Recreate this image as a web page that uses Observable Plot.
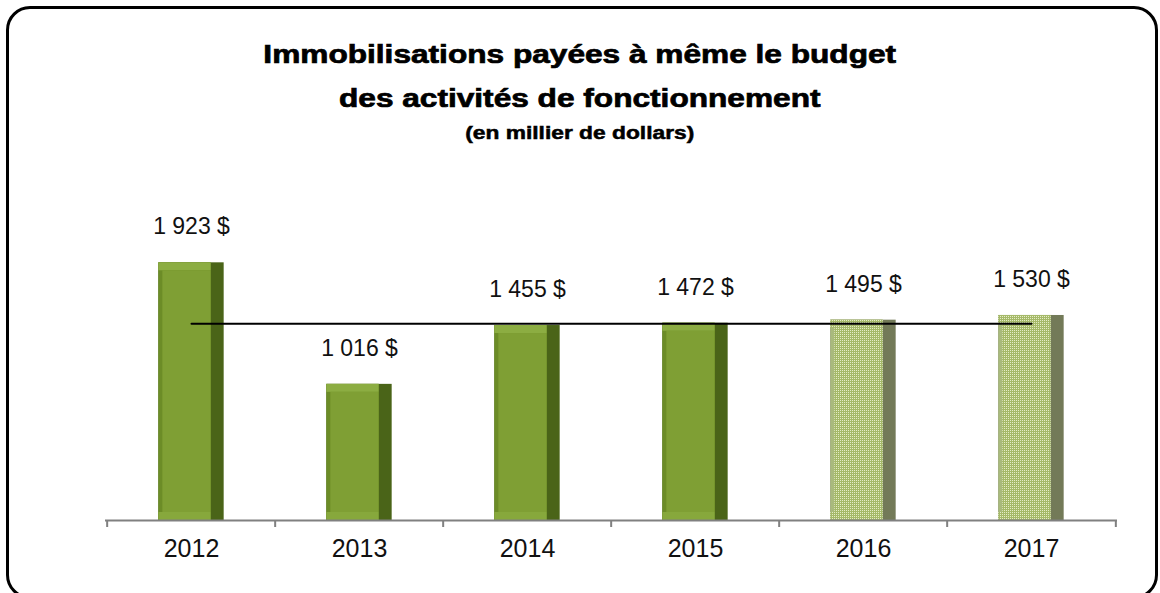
<!DOCTYPE html>
<html>
<head>
<meta charset="utf-8">
<script src="https://cdn.jsdelivr.net/npm/d3@7"></script>
<script src="https://cdn.jsdelivr.net/npm/@observablehq/plot@0.6"></script>
<style>
  html, body { margin: 0; padding: 0; background: #fff; }
  #wrap { position: relative; width: 1160px; height: 593px; overflow: hidden; background: #fff; font-family: "Liberation Sans", Arial, sans-serif; }
  #frame { position: absolute; left: 6px; top: 6px; width: 1152px; height: 593px; border: 3px solid #000; border-radius: 24px; box-sizing: border-box; }
  #titles { position: absolute; left: 0; top: 0; width: 1160px; height: 150px; text-align: center; color: #000; }
  .tl { position: absolute; left: 0; width: 100%; font-weight: bold; white-space: nowrap; transform: scaleX(1.265); transform-origin: 581px 0; -webkit-text-stroke: 0.7px #000; }
  #t1 { top: 40px; font-size: 25px; }
  #t2 { top: 84px; font-size: 25px; }
  #t3 { top: 123px; font-size: 18px; -webkit-text-stroke: 0.5px #000; }
  #chart { position: absolute; left: 0; top: 150px; }
</style>
</head>
<body>
<div id="wrap">
  <div id="frame"></div>
  <div id="titles">
    <div id="t1" class="tl">Immobilisations payées à même le budget</div>
    <div id="t2" class="tl">des activités de fonctionnement</div>
    <div id="t3" class="tl">(en millier de dollars)</div>
  </div>
  <div id="chart"></div>
</div>
<script>
const years = ["2012", "2013", "2014", "2015", "2016", "2017"];
const values = [1923, 1016, 1455, 1472, 1495, 1530];
const projected = [false, false, false, false, true, true];
const valueLabels = ["1 923 $", "1 016 $", "1 455 $", "1 472 $", "1 495 $", "1 530 $"];
const referenceLevel = 1468;

const data = years.map((y, i) => ({year: y, value: values[i], label: valueLabels[i], proj: projected[i]}));
const actual = data.filter(d => !d.proj);
const proj = data.filter(d => d.proj);
const refData = years.map(y => ({year: y, value: referenceLevel}));

const W = 1160, H = 443, ML = 105, MR = 43;
const step = (W - ML - MR) / years.length;
const side = (step - 66) / 2;
const lastYear = [years[years.length - 1]];

const bevel = (rows, c) => [
  Plot.barY(rows, {x: "year", y: "value", fill: c.right, insetLeft: side, insetRight: side}),
  Plot.barY(rows, {x: "year", y: "value", fill: c.left, insetLeft: side, insetRight: side + 13}),
  Plot.barY(rows, {x: "year", y1: "value", y2: "value", fill: c.top, insetLeft: side, insetRight: side + 13, insetBottom: -8}),
  Plot.barY(rows, {x: "year", y1: 0, y2: 0, fill: c.bottom, insetLeft: side, insetRight: side + 13, insetTop: -8}),
  Plot.barY(rows, {x: "year", y: "value", fill: c.face, insetLeft: side + 4, insetRight: side + 13, insetTop: 8, insetBottom: 8})
];

const chart = Plot.plot({
  width: W,
  height: H,
  marginLeft: ML,
  marginRight: MR,
  marginTop: 35,
  marginBottom: 73,
  style: {fontFamily: "Liberation Sans, Arial, sans-serif", background: "transparent", overflow: "visible"},
  x: {domain: years, padding: 0, label: null},
  y: {domain: [0, 2500], axis: null},
  marks: [
    ...bevel(actual, {right: "#4a6418", left: "#6c8c27", top: "#8cad42", bottom: "#87a83c", face: "#7f9f34"}),
    ...bevel(proj, {right: "#737a58", left: "#a9ba7c", top: "#c9d6a3", bottom: "#c4d29b", face: "#c3d29a"}),
    Plot.lineY(refData, {x: "year", y: "value", stroke: "#000", strokeWidth: 2}),
    Plot.ruleY([0], {stroke: "#808080", strokeWidth: 2}),
    Plot.ruleX(years, {x: d => d, y1: 0, y2: 0, insetBottom: -7, dx: -step / 2, stroke: "#808080", strokeWidth: 2}),
    Plot.ruleX(lastYear, {x: d => d, y1: 0, y2: 0, insetBottom: -7, dx: step / 2, stroke: "#808080", strokeWidth: 2}),
    Plot.text(data, {x: "year", y: "value", text: "label", dy: -36, fontSize: 23, fill: "#111"}),
    Plot.axisX({tickSize: 0, tickPadding: 19, fontSize: 25, fill: "#111"})
  ]
});

const svg = d3.select(chart);
const defs = svg.insert("defs", ":first-child");
const pat = defs.append("pattern").attr("id", "dots").attr("patternUnits", "userSpaceOnUse").attr("width", 2).attr("height", 2);
pat.append("rect").attr("width", 2).attr("height", 2).attr("fill", "#a5b968");
pat.append("rect").attr("width", 1).attr("height", 1).attr("fill", "#e4ecc6");
svg.selectAll('[fill="#c3d29a"]').attr("fill", "url(#dots)");
svg.selectAll('[fill="#c9d6a3"]').attr("fill", "url(#dots)");
svg.selectAll('[fill="#c4d29b"]').attr("fill", "url(#dots)");
document.getElementById("chart").appendChild(chart);
</script>
</body>
</html>
